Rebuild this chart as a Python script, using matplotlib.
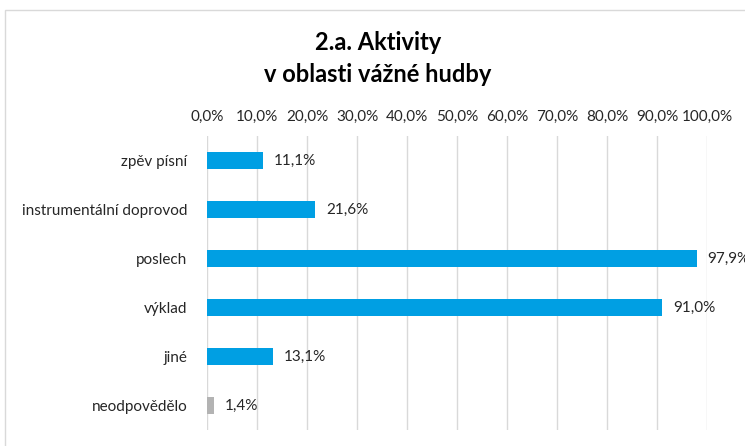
import matplotlib
matplotlib.use("Agg")
import matplotlib.pyplot as plt
import matplotlib.patches as patches

plt.rcParams["font.family"] = ["Lato", "DejaVu Sans"]

categories = ["zpěv písní", "instrumentální doprovod", "poslech",
              "výklad", "jiné", "neodpovědělo"]
values = [11.1, 21.6, 97.9, 91.0, 13.1, 1.4]
bar_colors = ["#009FE3", "#009FE3", "#009FE3", "#009FE3", "#009FE3", "#B3B3B3"]
xticks = [0, 10, 20, 30, 40, 50, 60, 70, 80, 90, 100]

W, H = 745, 446
fig = plt.figure(figsize=(W / 100, H / 100), dpi=100)
fig.patch.set_facecolor("white")

# rámeček grafu (uříznutý vpravo a dole)
fig.add_artist(patches.Rectangle((5 / W, -0.2), 2.0, 1.2 - 10 / H,
                                 transform=fig.transFigure, fill=False,
                                 edgecolor="#D9D9D9", linewidth=1.0))

ax = fig.add_axes([207 / W, 1 - 430 / H, 500 / W, 294 / H])
y = list(range(len(categories)))
ax.barh(y, values, height=0.35, color=bar_colors, zorder=3)
ax.set_ylim(len(categories) - 0.5, -0.5)
ax.set_xlim(0, 100)

ax.set_yticks(y)
ax.set_yticklabels(categories, fontsize=11, color="#262626")
ax.set_xticks(xticks)
ax.set_xticklabels([f"{t:.1f}%".replace(".", ",") for t in xticks],
                   fontsize=11, color="#262626")
ax.xaxis.tick_top()
ax.tick_params(axis="both", length=0)
ax.tick_params(axis="y", pad=14)
ax.tick_params(axis="x", pad=9)
for s in ax.spines.values():
    s.set_visible(False)
ax.grid(axis="x", color="#D9D9D9", linewidth=1.0, zorder=0)

for yi, v in zip(y, values):
    ax.text(v + 2.2, yi, f"{v:.1f}%".replace(".", ","), va="center",
            ha="left", fontsize=11, color="#262626", clip_on=False)

fig.text(378 / W, 1 - 43 / H, "2.a. Aktivity", ha="center", va="center",
         fontsize=17, fontweight="bold", color="black")
fig.text(378 / W, 1 - 74 / H, "v oblasti vážné hudby", ha="center",
         va="center", fontsize=17, fontweight="bold", color="black")

fig.savefig("out.png", dpi=100, facecolor="white")
